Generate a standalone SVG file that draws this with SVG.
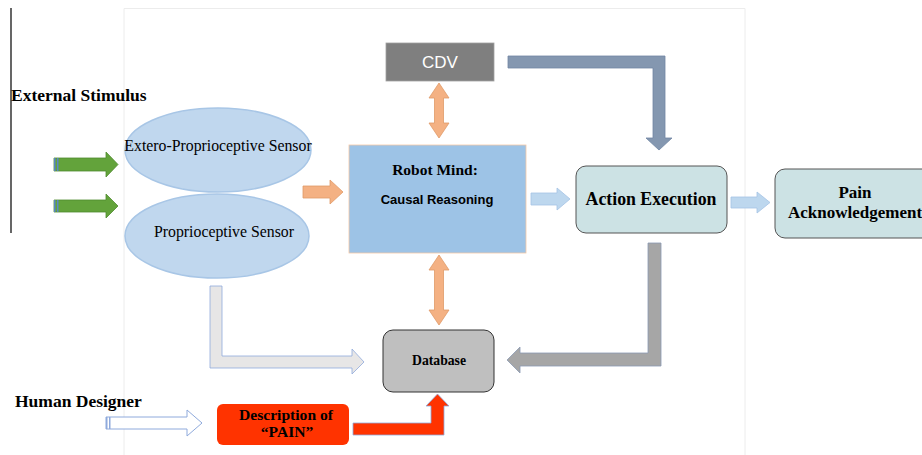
<svg xmlns="http://www.w3.org/2000/svg" width="922" height="455" viewBox="0 0 922 455">
<style>
.serif{font-family:"Liberation Serif","Times New Roman",serif;fill:#000}
.b{font-weight:bold}
.sans{font-family:"Liberation Sans",Arial,sans-serif}
.ell{fill:#c0d7ee;stroke:#a8c6e6;stroke-width:1.5}
.green{fill:#63a33b;stroke:#4f8a2e;stroke-width:0.8}
.orange{fill:#f4b183;stroke:#e09a68;stroke-width:0.8}
.lblue{fill:#bdd7ee;stroke:#a5c3e4;stroke-width:0.8}
.stripe{fill:#5b86c4}
</style>
<rect width="922" height="455" fill="#fff"/>
<g id="frame">
<path d="M124,455 V8.5 H745 V455" fill="none" stroke="#ececec" stroke-width="1"/>
<line x1="11" y1="8" x2="11" y2="233" stroke="#000" stroke-width="1.2"/>
</g>
<g id="labels">
<text class="serif b" x="11" y="101" font-size="17.5">External Stimulus</text>
<text class="serif b" x="15" y="407" font-size="17.5">Human Designer</text>
</g>
<g id="connectors">
<polygon class="green" points="54,158 106,158 106,152 118,164.5 106,177 106,171 54,171"/>
<rect class="stripe" x="54" y="158" width="1.5" height="13"/>
<rect class="stripe" x="57" y="158" width="1.5" height="13"/>
<polygon class="green" points="54,200 106,200 106,194 118,206 106,218 106,212 54,212"/>
<rect class="stripe" x="54" y="200" width="1.5" height="12"/>
<rect class="stripe" x="57" y="200" width="1.5" height="12"/>
<polygon class="orange" points="303,186 330,186 330,180 343,192 330,204 330,198 303,198"/>
<polygon class="orange" points="439,83 449,98 443.5,98 443.5,123 449,123 439,138 429,123 434.5,123 434.5,98 429,98"/>
<polygon class="orange" points="439,255 449,270 443.5,270 443.5,310 449,310 439,325 429,310 434.5,310 434.5,270 429,270"/>
<polygon class="lblue" points="531,193 557,193 557,188 570,199 557,210 557,205 531,205"/>
<polygon class="lblue" points="731,197 757,197 757,192 770,202.5 757,213 757,208 731,208"/>
<polygon fill="#8497b0" stroke="#7187a3" stroke-width="0.8" points="508,56 665,56 665,138 672,138 659,150 646,138 653,138 653,68 508,68"/>
<polygon fill="#a6a6a6" stroke="#8c9bb4" stroke-width="0.8" points="648,243 661,243 661,366 520,366 520,373 507,360 520,347 520,353 648,353"/>
<polygon fill="#e7e6e6" stroke="#8faadc" stroke-width="0.8" points="210,286 222,286 222,356 352,356 352,349 364,362 352,374 352,368 210,368"/>
<polygon fill="#fff" stroke="#8faadc" stroke-width="1" points="106,417 187,417 187,410 202,423 187,436 187,429 106,429"/>
<rect x="106" y="417" width="1.5" height="12" fill="#8faadc"/>
<rect x="109" y="417" width="1.5" height="12" fill="#8faadc"/>
<polygon fill="#ff3300" stroke="#8faadc" stroke-width="0.8" points="353,423 431,423 431,406 426,406 437.5,394 449,406 444,406 444,435 353,435"/>
</g>
<g id="extero">
<ellipse class="ell" cx="218" cy="150" rx="93" ry="42"/>
<text class="serif" x="218" y="151" font-size="15.8" text-anchor="middle">Extero-Proprioceptive Sensor</text>
</g>
<g id="proprio">
<ellipse class="ell" cx="217" cy="236" rx="92" ry="42"/>
<text class="serif" x="224" y="237" font-size="15.8" text-anchor="middle">Proprioceptive Sensor</text>
</g>
<g id="cdv">
<rect x="386" y="43" width="108" height="38" fill="#7f7f7f" stroke="#a0a0a0" stroke-width="0.8"/>
<text class="sans" x="440" y="68" font-size="17" fill="#fff" text-anchor="middle">CDV</text>
</g>
<g id="robot">
<rect x="349" y="145" width="177" height="108" fill="#9dc3e6" stroke="#f4c9a5" stroke-width="0.8"/>
<text class="serif b" x="435" y="175" font-size="15.5" text-anchor="middle">Robot Mind:</text>
<text class="sans b" x="437" y="204" font-size="13" text-anchor="middle" fill="#000">Causal Reasoning</text>
</g>
<g id="action">
<rect x="576" y="166" width="151" height="67" rx="10" fill="#cce2e4" stroke="#555" stroke-width="1"/>
<text class="serif b" x="651" y="205" font-size="17.8" text-anchor="middle">Action Execution</text>
</g>
<g id="pain">
<rect x="775" y="169" width="160" height="69" rx="10" fill="#cce2e4" stroke="#555" stroke-width="1"/>
<text class="serif b" x="855" y="198" font-size="17" text-anchor="middle">Pain</text>
<text class="serif b" x="855" y="218" font-size="17" text-anchor="middle">Acknowledgement</text>
</g>
<g id="database">
<rect x="383" y="330" width="111" height="62" rx="10" fill="#bfbfbf" stroke="#333" stroke-width="1"/>
<text class="serif b" x="439" y="365" font-size="13.7" text-anchor="middle">Database</text>
</g>
<g id="description">
<rect x="217" y="404" width="132" height="41" rx="6" fill="#ff3300"/>
<text class="serif b" x="286" y="420" font-size="15.6" text-anchor="middle">Description of</text>
<text class="serif b" x="287" y="437" font-size="15.6" text-anchor="middle">“PAIN”</text>
</g>
</svg>
